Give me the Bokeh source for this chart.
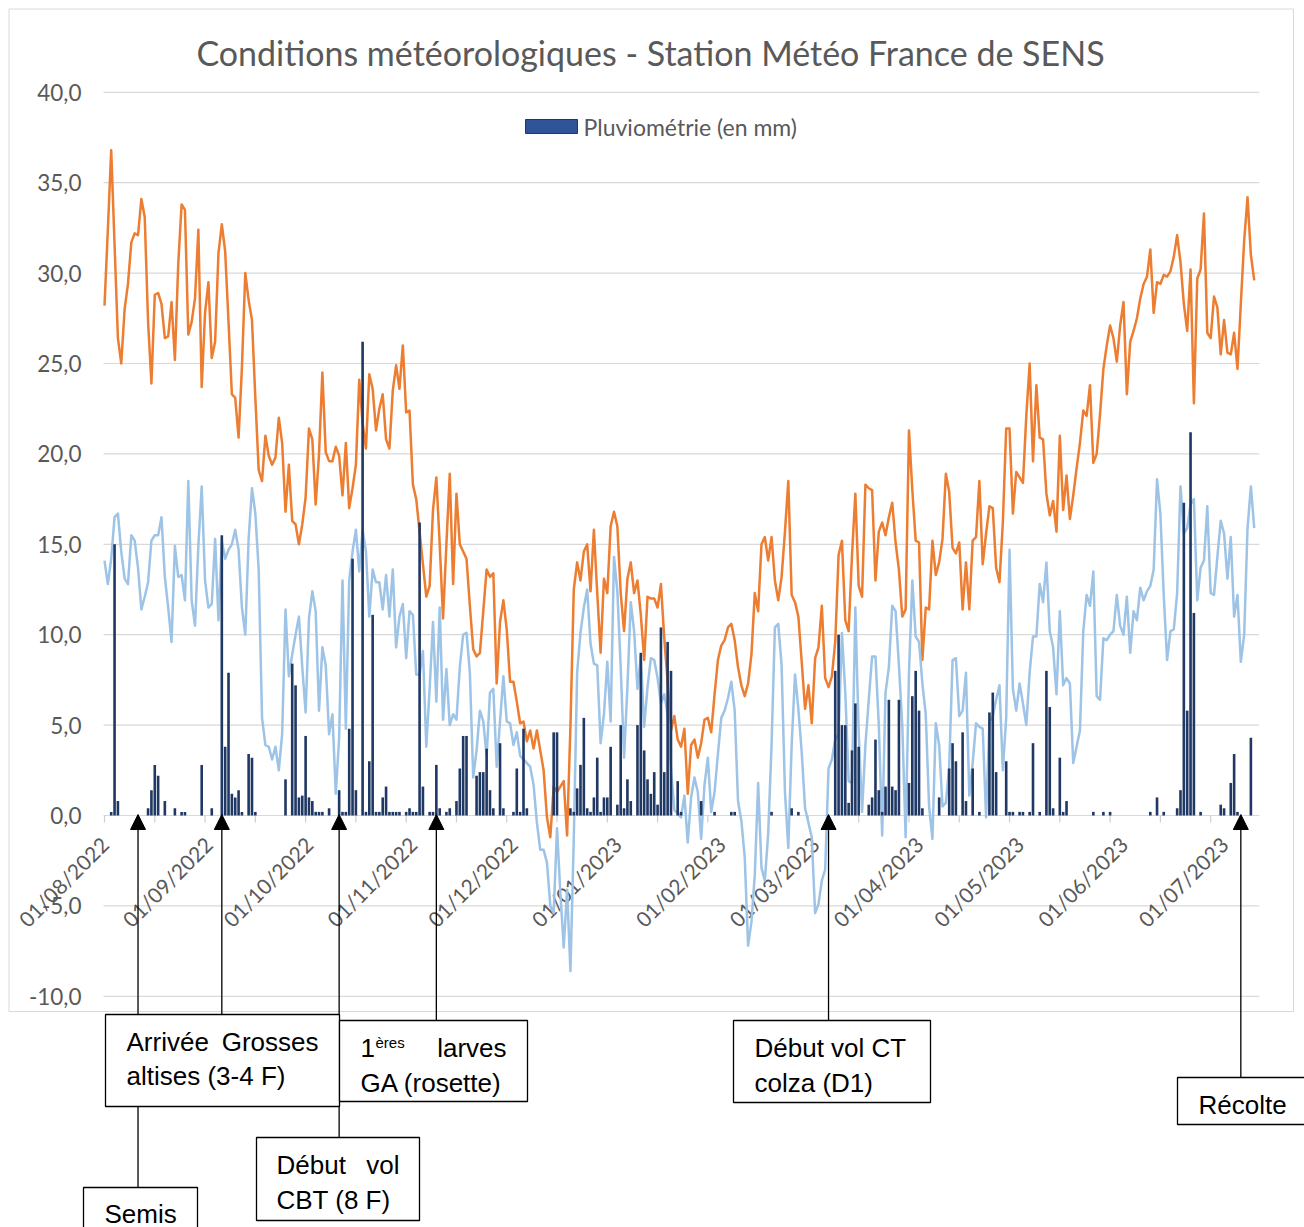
import math
import pandas as pd
from bokeh.plotting import figure
from bokeh.models import Range1d
from bokeh.core.properties import value
from bokeh.embed import file_html
from bokeh.resources import INLINE

# ---------------- data (daily, from 01/08/2022) ----------------
start_date = "2022-08-01"

# Orange series: daily maximum temperature (°C)
tmax = [
    28.2, 32.4, 36.8, 31.6, 26.4, 25.0, 28.0, 29.4, 31.7, 32.2,
    32.1, 34.1, 33.1, 27.3, 23.9, 28.8, 28.9, 28.3, 26.4, 26.5,
    28.4, 25.2, 30.5, 33.8, 33.5, 26.6, 27.3, 28.6, 32.4, 23.7,
    27.8, 29.5, 25.3, 26.2, 31.1, 32.7, 31.2, 27.3, 23.3, 23.1,
    20.9, 24.8, 30.0, 28.5, 27.4, 23.1, 19.1, 18.5, 21.0, 19.9,
    19.4, 19.8, 22.0, 20.6, 16.8, 19.4, 16.3, 16.1, 15.0, 16.1,
    17.6, 21.4, 20.8, 17.2, 20.0, 24.5, 20.1, 19.6, 19.6, 20.4,
    19.9, 17.7, 20.6, 17.0, 18.1, 19.4, 24.1, 21.7, 20.3, 24.4,
    23.6, 21.3, 22.5, 23.3, 20.8, 20.3, 23.5, 24.9, 23.6, 26.0,
    22.3, 22.4, 18.3, 17.5, 15.7, 13.9, 12.1, 12.7, 16.9, 18.7,
    15.0, 10.9, 15.0, 18.9, 12.8, 17.8, 15.0, 14.6, 14.2, 11.6,
    9.2, 8.8, 9.0, 11.3, 13.6, 13.2, 13.4, 7.3, 10.7, 11.9,
    10.3, 7.4, 7.4, 6.3, 5.1, 5.2, 4.1, 4.7, 3.7, 4.7,
    3.6, 2.5, -0.1, -1.2, 1.6, 1.3, 1.6, 1.9, -1.1, 4.9,
    12.5, 14.0, 13.0, 14.6, 15.0, 12.4, 15.8, 12.3, 9.0, 13.1,
    12.3, 16.0, 16.8, 16.0, 12.3, 10.2, 13.1, 14.0, 12.3, 13.0,
    11.1, 8.6, 12.1, 12.0, 12.0, 11.5, 12.8, 9.8, 7.4, 4.7,
    5.5, 4.2, 3.8, 4.8, 1.2, 3.9, 4.2, 3.2, 4.0, 5.3,
    5.4, 4.6, 6.7, 8.6, 9.4, 9.7, 10.4, 10.6, 9.7, 8.2,
    7.2, 6.6, 7.3, 8.9, 12.3, 11.3, 15.0, 15.4, 14.1, 15.4,
    13.0, 11.9, 13.2, 15.7, 18.5, 12.2, 11.8, 11.0, 8.5, 5.9,
    7.2, 5.1, 8.7, 9.3, 11.6, 7.6, 7.1, 7.7, 9.6, 14.4,
    15.2, 10.8, 10.2, 14.4, 17.8, 12.7, 12.1, 18.3, 18.1, 18.0,
    13.0, 15.7, 16.2, 15.5, 16.5, 17.3, 15.1, 13.6, 11.0, 11.4,
    21.3, 18.0, 15.2, 15.1, 8.6, 11.5, 11.4, 15.2, 13.3, 14.0,
    15.3, 18.9, 17.9, 14.8, 14.5, 15.1, 11.4, 14.0, 11.4, 15.2,
    15.4, 18.5, 13.9, 15.6, 17.1, 17.0, 13.7, 12.9, 16.2, 21.4,
    21.4, 16.7, 19.0, 18.7, 18.4, 22.1, 25.0, 19.6, 23.8, 20.9,
    20.8, 17.8, 16.6, 17.4, 15.7, 21.0, 16.9, 18.8, 16.4, 17.7,
    19.2, 20.6, 22.4, 22.1, 23.8, 19.5, 20.0, 22.2, 24.7, 26.0,
    27.1, 26.4, 25.1, 27.1, 28.4, 23.3, 26.2, 26.8, 27.5, 28.6,
    29.4, 29.8, 31.3, 27.8, 29.5, 29.4, 29.9, 29.8, 30.1, 30.9,
    32.1, 30.6, 28.3, 26.8, 30.2, 22.8, 29.7, 30.2, 33.3, 26.7,
    26.4, 28.7, 28.1, 25.5, 27.4, 25.6, 25.5, 26.7, 24.7, 28.3,
    31.8, 34.2, 31.0, 29.6,
]

# Light blue series: daily minimum temperature (°C)
tmin = [
    14.1, 12.8, 14.2, 16.5, 16.7, 14.6, 13.1, 12.8, 15.5, 15.2,
    13.7, 11.4, 12.1, 12.9, 15.2, 15.5, 15.5, 16.5, 13.2, 11.5,
    9.6, 14.9, 13.2, 13.3, 11.9, 18.5, 11.9, 10.5, 14.9, 18.2,
    13.0, 11.5, 11.7, 15.3, 10.8, 15.2, 14.2, 14.7, 15.0, 15.8,
    14.7, 11.5, 10.0, 15.3, 18.1, 16.7, 13.6, 5.4, 3.9, 3.8,
    3.1, 3.8, 2.5, 4.5, 11.4, 7.7, 8.9, 10.0, 11.0, 8.2,
    5.7, 10.9, 12.4, 11.3, 5.8, 9.3, 8.3, 4.5, 5.6, 1.2,
    4.3, 13.0, 4.8, 13.0, 14.6, 15.8, 13.5, 15.8, 14.6, 11.0,
    13.6, 12.9, 12.9, 11.4, 13.3, 11.0, 13.6, 9.3, 11.0, 11.7,
    8.7, 11.3, 11.1, 7.8, 7.8, 9.1, 3.8, 7.0, 10.7, 6.3,
    11.5, 5.3, 8.1, 5.0, 5.6, 5.3, 8.2, 10.0, 10.1, 7.9,
    2.1, 3.6, 5.8, 5.2, 3.3, 6.8, 7.0, 2.7, 5.2, 7.7,
    5.2, 5.1, 3.9, 4.6, 3.3, 3.1, 2.9, 2.7, 1.7, -0.4,
    -1.9, -1.9, -2.6, -5.0, -5.4, -0.7, -4.3, -7.3, -4.1, -8.6,
    -1.3, 7.9, 10.1, 11.5, 12.5, 9.5, 8.4, 8.3, 4.0, 5.6,
    8.5, 5.2, 14.3, 12.4, 8.2, 3.2, 7.1, 11.8, 10.2, 7.0,
    8.8, 4.9, 7.1, 8.7, 8.6, 7.6, 6.2, 6.7, 5.6, 2.6,
    0.3, 0.1, -0.1, 1.1, -1.5, 1.0, 2.1, 1.3, -1.3, 1.7,
    3.2, 0.2, 1.3, 3.4, 5.4, 5.8, 6.5, 7.4, 5.8, 0.8,
    -0.3, -2.3, -7.2, -5.9, -3.3, 1.8, -2.9, -3.6, -1.0, 3.9,
    10.4, 10.6, 8.3, 1.3, -1.8, 3.9, 7.8, 5.9, 3.5, 0.4,
    -0.4, -1.2, -5.4, -4.9, -3.6, -3.0, 2.6, 3.1, 4.2, 4.5,
    10.1, 6.8, 1.9, 1.8, 11.5, 4.6, 0.2, 3.9, 6.4, 8.8,
    8.8, 5.0, -1.1, 6.8, 8.2, 11.6, 11.3, 8.3, 5.0, -1.2,
    7.9, 13.0, 9.9, 9.6, 7.3, 5.6, 0.5, -1.3, 5.1, 3.9,
    0.5, 0.7, 2.7, 8.6, 8.7, 5.5, 5.8, 7.9, 1.1, 2.9,
    5.1, 4.9, 4.8, -0.1, 5.2, 5.5, 6.4, 7.2, 2.5, 5.4,
    14.7, 7.0, 5.8, 7.3, 6.2, 5.0, 7.9, 9.9, 9.9, 12.8,
    11.8, 14.0, 10.2, 9.3, 6.7, 11.3, 7.2, 7.6, 7.3, 2.9,
    3.8, 4.7, 10.2, 12.2, 11.6, 13.5, 6.6, 6.4, 9.8, 9.7,
    10.0, 10.2, 12.2, 10.5, 10.0, 12.1, 9.0, 11.3, 10.8, 12.6,
    11.9, 12.4, 12.7, 13.6, 18.6, 16.7, 12.2, 8.6, 10.2, 10.3,
    12.3, 18.2, 15.6, 15.9, 17.2, 17.5, 11.9, 13.7, 14.1, 17.1,
    12.3, 12.2, 14.3, 16.3, 15.6, 13.1, 15.4, 11.0, 12.2, 8.5,
    10.0, 15.9, 18.2, 15.9,
]

# Dark blue bars: daily rainfall (mm)
rain = [
    0, 0, 0.2, 15.0, 0.8, 0, 0, 0, 0, 0,
    0, 0, 0, 0.4, 1.4, 2.8, 2.2, 0, 0.8, 0,
    0, 0.4, 0, 0.2, 0.2, 0, 0, 0, 0, 2.8,
    0, 0, 0.4, 0, 0, 15.5, 3.8, 7.9, 1.2, 1.0,
    1.4, 0.2, 0, 3.4, 3.2, 0.2, 0, 0, 0, 0,
    0, 0, 0, 0, 2.0, 0, 8.4, 7.2, 1.0, 1.1,
    4.4, 1.0, 0.8, 0.2, 0.2, 0.2, 0, 0.4, 0, 0,
    1.4, 0.2, 0.2, 4.8, 14.2, 1.4, 0, 26.2, 0.2, 3.0,
    11.1, 0.2, 0.2, 1.0, 1.6, 0.2, 0.2, 0.2, 0.2, 0,
    0.2, 0.4, 0.2, 0.2, 16.2, 1.6, 0, 0.2, 0.2, 2.8,
    0.4, 0, 0.2, 0.4, 0, 0.8, 2.6, 4.4, 4.4, 0,
    0, 2.2, 2.4, 2.4, 3.7, 1.4, 0.4, 0, 4.0, 0.4,
    0, 0, 0.2, 2.6, 0.2, 4.8, 0.4, 0, 0, 0,
    0, 0, 0, 0, 4.6, 4.6, 0, 0, 0, 0.4,
    0.2, 1.5, 2.8, 5.4, 0.4, 0.2, 1.0, 3.2, 0.2, 1.0,
    1.0, 3.8, 0, 0.6, 5.0, 0.4, 2.0, 0.8, 0, 5.0,
    9.0, 3.6, 2.0, 1.2, 2.4, 0.6, 10.4, 2.4, 9.6, 8.0,
    0, 1.9, 0.2, 0, 0, 0, 0, 0, 0.8, 0,
    0, 0, 0.2, 0, 0, 0, 0, 0.2, 0.2, 0,
    0, 0, 0, 0, 0, 0, 0, 0, 0, 0.2,
    0, 0, 0, 0, 0, 0.4, 0, 0.2, 0, 0,
    0, 0, 0, 0, 0, 0, 0, 0, 8.0, 10.0,
    5.0, 5.0, 0.7, 3.6, 6.2, 3.8, 0, 0, 0.6, 1.0,
    4.2, 1.4, 0.2, 1.6, 6.4, 1.6, 1.4, 6.4, 0, 0,
    1.8, 6.6, 8.0, 5.8, 0.4, 0, 0, 0, 0, 1.0,
    0, 0, 2.6, 4.0, 3.0, 0, 4.6, 0.8, 0, 2.6,
    0, 0.2, 0, 0, 5.7, 6.8, 2.4, 0, 0, 3.0,
    0.2, 0.2, 0, 0.2, 0.2, 0, 0.2, 4.0, 0, 0.2,
    0, 8.0, 6.0, 0.4, 0, 3.2, 0.2, 0.8, 0, 0,
    0, 0, 0, 0, 0, 0.2, 0, 0, 0.2, 0,
    0.2, 0, 0, 0, 0, 0, 0, 0, 0, 0,
    0, 0, 0.2, 0, 1.0, 0, 0.2, 0, 0, 0,
    0.4, 1.4, 17.3, 5.8, 21.2, 11.2, 0, 0.2, 0, 0,
    0, 0, 0, 0.6, 0.4, 0, 1.8, 3.4, 0.2, 0,
    0, 0, 4.3, 0,
]

month_starts = ["2022-08-01", "2022-09-01", "2022-10-01", "2022-11-01", "2022-12-01",
                "2023-01-01", "2023-02-01", "2023-03-01", "2023-04-01", "2023-05-01",
                "2023-06-01", "2023-07-01"]
month_labels = ["01/08/2022", "01/09/2022", "01/10/2022", "01/11/2022", "01/12/2022",
                "01/01/2023", "01/02/2023", "01/03/2023", "01/04/2023", "01/05/2023",
                "01/06/2023", "01/07/2023"]
y_ticks = [-10, -5, 0, 5, 10, 15, 20, 25, 30, 35, 40]
y_tick_labels = ["-10,0", "-5,0", "0,0", "5,0", "10,0", "15,0", "20,0", "25,0", "30,0", "35,0", "40,0"]

title_text = "Conditions météorologiques - Station Météo France de SENS"
legend_text = "Pluviométrie (en mm)"

# Crop events (date the arrow points to)
event_dates = ["2022-08-11", "2022-09-05", "2022-10-10", "2022-11-08", "2023-03-05", "2023-07-06"]
event_names = ["Semis", "Arrivée Grosses altises (3-4 F)", "Début vol CBT (8 F)",
               "1ères larves GA (rosette)", "Début vol CT colza (D1)", "Récolte"]

# ---------------- layout ----------------
W, H = 1304, 1227
PPD = 3.352      # pixels per day
X0 = 104         # canvas x of first day
PPU = 18.08      # pixels per degree / mm
Y0 = 815         # canvas y of value 0

t0 = pd.Timestamp(start_date)
days = list(range(len(tmax)))


def dnum(s):
    return (pd.Timestamp(s) - t0).days


def dx(px):  # canvas x -> data x
    return (px - X0) / PPD


def dy(py):  # canvas y -> data y
    return (Y0 - py) / PPU


p = figure(width=W, height=H, title=None,
           x_range=Range1d(-X0 / PPD, (W - X0) / PPD),
           y_range=Range1d((Y0 - H) / PPU, Y0 / PPU),
           x_axis_type=None, y_axis_type=None,
           toolbar_location=None, output_backend="svg", min_border=0)
p.outline_line_color = None
p.background_fill_color = "white"
p.border_fill_color = "white"

GRAY_TXT = "#595959"
CHART_FONT = value("Lato")
BOX_FONT = value("Liberation Sans")

# chart border
p.quad(left=[dx(8.5)], right=[dx(1293)], top=[dy(8.5)], bottom=[dy(1011)],
       fill_color=None, line_color="#d9d9d9", line_width=1)

# gridlines
x_first = -0.3
x_last = len(days) + 0.5
p.segment(x0=[x_first] * len(y_ticks), x1=[x_last] * len(y_ticks), y0=y_ticks, y1=y_ticks,
          line_color="#d9d9d9", line_width=1.2)

# x axis minor ticks
tick_x = list(range(0, len(days) + 1, 15))
p.segment(x0=tick_x, x1=tick_x, y0=[0] * len(tick_x), y1=[-7 / PPU] * len(tick_x),
          line_color="#cfcfcf", line_width=1.2)

# y tick labels
p.text(x=[dx(81)] * len(y_ticks), y=y_ticks, text=y_tick_labels,
       text_align="right", text_baseline="middle", text_font=CHART_FONT,
       text_font_size=value("22.5px"), text_color=GRAY_TXT)

# x tick labels (rotated)
mx = [dnum(s) for s in month_starts]
p.text(x=mx, y=[-25 / PPU] * len(mx), text=month_labels, angle=math.pi / 4,
       text_align="right", text_baseline="middle", text_font=CHART_FONT,
       text_font_size=value("21px"), text_color=GRAY_TXT)

# series
p.line(x=days, y=tmax, line_color="#ED7D31", line_width=2.5, line_join="round")
p.line(x=days, y=tmin, line_color="#9DC3E6", line_width=2.5, line_join="round")
p.vbar(x=days, top=rain, bottom=0, width=0.78, fill_color="#203864", line_color=None)

# title
p.text(x=[dx(650)], y=[dy(52)], text=[title_text], text_align="center",
       text_baseline="middle", text_font=CHART_FONT, text_font_size=value("34px"),
       text_color=GRAY_TXT)

# legend
p.quad(left=[dx(525)], right=[dx(577)], top=[dy(119)], bottom=[dy(133)],
       fill_color="#2F5597", line_color="#1F3864", line_width=1)
p.text(x=[dx(583)], y=[dy(126)], text=[legend_text], text_align="left",
       text_baseline="middle", text_font=CHART_FONT, text_font_size=value("23px"),
       text_color=GRAY_TXT)

# ---------------- annotations ----------------
# box rectangles (canvas px: left, top, right, bottom), one per event
box_rects = [
    (83, 1187, 197, 1245),     # Semis
    (105, 1014, 339, 1106),    # Arrivée GA
    (256, 1137, 419, 1220),    # CBT
    (339, 1020, 527, 1101),    # larves
    (733, 1020, 930, 1102),    # CT
    (1177, 1077, 1312, 1124),  # Récolte
]
ev_x = [dnum(s) for s in event_dates]
TIP = 814
BASE = 829
HALF = 7.5 / PPD

# shafts
p.segment(x0=ev_x, x1=ev_x, y0=[dy(BASE)] * len(ev_x), y1=[dy(r[1]) for r in box_rects],
          line_color="black", line_width=1.3)
# heads
p.patches(xs=[[x - HALF, x, x + HALF] for x in ev_x],
          ys=[[dy(BASE), dy(TIP), dy(BASE)] for _ in ev_x],
          fill_color="black", line_color="black", line_width=1)
# boxes
p.quad(left=[dx(r[0]) for r in box_rects], right=[dx(r[2]) for r in box_rects],
       top=[dy(r[1]) for r in box_rects], bottom=[dy(r[3]) for r in box_rects],
       fill_color="white", line_color="black", line_width=1.3)

# box texts: (text, canvas x, canvas y, align, size)
box_texts = [
    ("Semis", 104, 1213, "left", 26),
    ("Arrivée", 126, 1041, "left", 26),
    ("Grosses", 318, 1041, "right", 26),
    ("altises (3-4 F)", 126, 1075, "left", 26),
    ("Début", 276, 1164, "left", 26),
    ("vol", 399, 1164, "right", 26),
    ("CBT (8 F)", 276, 1199, "left", 26),
    ("1", 360, 1047, "left", 26),
    ("ères", 375, 1042, "left", 15),
    ("larves", 506, 1047, "right", 26),
    ("GA (rosette)", 360, 1082, "left", 26),
    ("Début vol CT", 754, 1047, "left", 26),
    ("colza (D1)", 754, 1082, "left", 26),
    ("Récolte", 1198, 1104, "left", 26),
]
for txt, tx, ty, al, sz in box_texts:
    p.text(x=[dx(tx)], y=[dy(ty)], text=[txt], text_align=al, text_baseline="middle",
           text_font=BOX_FONT, text_font_size=value(f"{sz}px"), text_color="black")

open("out.html", "w").write(file_html(p, INLINE))
